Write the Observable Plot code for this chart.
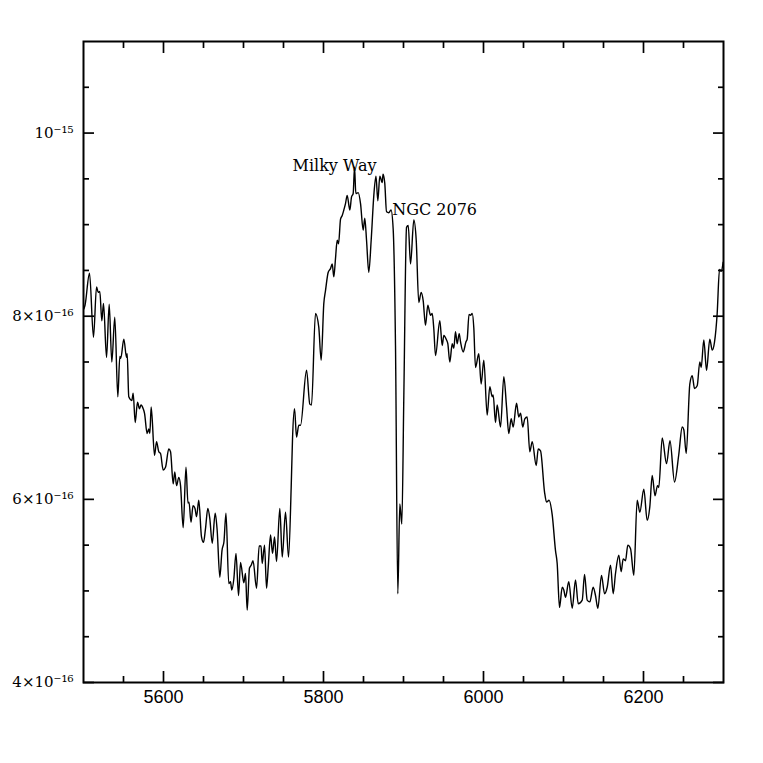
<!DOCTYPE html>
<html><head><meta charset="utf-8">
<script src="https://cdn.jsdelivr.net/npm/d3@7"></script>
<script src="https://cdn.jsdelivr.net/npm/@observablehq/plot@0.6"></script>
<style>body{margin:0;background:#fff}</style>
</head><body><div id="chart"></div>
<script>
const wavelength = [5500.4,5501.9,5507.5,5512.5,5516.3,5518.4,5520.4,5522.9,5525.0,5528.8,5532.1,5535.4,5539.1,5542.9,5545.4,5546.6,5550.4,5553.8,5554.6,5556.6,5560.4,5562.1,5564.6,5567.5,5570.0,5571.9,5574.6,5576.3,5579.5,5581.6,5582.9,5584.6,5588.8,5591.3,5594.1,5596.3,5599.6,5602.5,5606.6,5608.8,5612.1,5614.1,5616.3,5619.1,5621.3,5624.6,5628.1,5630.6,5631.9,5634.4,5636.9,5639.4,5641.3,5644.1,5647.5,5650.0,5652.5,5655.4,5657.9,5660.9,5664.6,5667.1,5670.4,5673.1,5675.6,5678.1,5681.6,5683.8,5685.3,5687.9,5690.6,5693.8,5696.3,5700.4,5702.5,5704.6,5707.5,5709.6,5711.9,5716.3,5719.6,5721.9,5723.4,5726.3,5728.8,5730.9,5733.8,5736.3,5738.8,5741.3,5745.4,5748.4,5752.5,5756.3,5759.6,5761.3,5763.8,5766.3,5769.1,5771.3,5778.8,5782.9,5785.0,5790.0,5794.1,5797.1,5800.4,5802.5,5805.9,5808.8,5810.9,5812.9,5815.0,5817.1,5818.8,5821.3,5823.4,5825.4,5827.5,5829.6,5832.9,5835.0,5837.1,5838.8,5840.4,5843.4,5846.3,5849.6,5851.6,5853.8,5856.6,5859.6,5862.9,5865.6,5867.9,5870.4,5873.4,5874.4,5876.6,5878.8,5881.6,5884.4,5887.1,5890.0,5892.9,5895.4,5897.9,5900.4,5903.8,5905.9,5908.8,5912.9,5915.9,5919.1,5922.1,5924.6,5927.5,5930.4,5933.8,5935.9,5937.9,5940.0,5945.4,5948.4,5950.4,5953.8,5955.4,5957.9,5960.9,5962.9,5965.0,5967.1,5969.6,5971.3,5974.6,5978.1,5979.6,5981.9,5983.8,5985.9,5987.9,5990.0,5994.1,5997.1,6000.4,6004.6,6007.9,6010.9,6012.1,6015.0,6017.1,6021.3,6025.4,6028.8,6031.6,6034.6,6037.1,6041.3,6044.1,6046.3,6049.1,6051.6,6054.6,6057.9,6060.9,6065.9,6068.4,6071.3,6076.3,6078.8,6081.9,6085.9,6090.0,6092.1,6095.0,6098.4,6100.4,6102.5,6106.6,6110.9,6115.0,6118.4,6123.4,6126.3,6129.6,6132.9,6137.1,6140.0,6142.9,6147.5,6151.3,6154.6,6158.8,6162.1,6165.0,6169.1,6172.1,6174.6,6177.5,6180.4,6183.8,6187.9,6192.1,6195.4,6200.4,6204.6,6207.9,6210.9,6214.4,6217.5,6219.1,6223.4,6228.8,6233.1,6238.8,6244.1,6248.4,6250.4,6253.4,6257.9,6260.9,6263.8,6267.1,6270.4,6272.1,6275.4,6278.8,6282.9,6285.9,6288.8,6292.1,6295.0,6297.1,6299.6];
// flux in units of 1e-16
const flux = [8.08,8.12,8.47,7.77,8.32,8.26,8.27,7.95,8.14,7.55,8.13,7.50,7.99,7.12,7.56,7.54,7.75,7.55,7.59,7.12,7.08,7.16,6.84,7.06,6.99,7.03,6.99,6.94,6.72,6.77,6.72,7.01,6.48,6.63,6.52,6.50,6.32,6.35,6.55,6.52,6.17,6.30,6.15,6.24,6.15,5.69,6.35,5.96,5.97,5.75,5.93,5.90,5.81,5.99,5.59,5.53,5.68,5.90,5.79,5.52,5.85,5.66,5.15,5.44,5.54,5.85,5.08,5.10,5.01,5.13,5.41,4.95,5.31,5.09,5.19,4.79,5.25,5.28,5.33,5.03,5.49,5.49,5.30,5.50,5.03,5.26,5.61,5.41,5.59,5.32,5.90,5.37,5.86,5.37,6.13,6.67,6.99,6.68,6.81,6.81,7.41,7.04,7.03,8.03,7.88,7.52,8.14,8.28,8.48,8.52,8.57,8.43,8.63,8.83,8.79,9.06,9.10,9.16,9.23,9.32,9.16,9.30,9.34,9.63,9.34,9.35,9.23,8.94,9.07,8.83,8.48,8.83,9.32,9.53,9.26,9.53,9.46,9.55,9.45,9.14,9.13,9.16,8.95,7.68,4.97,5.95,5.73,7.12,8.97,8.99,8.57,9.05,8.83,8.15,8.26,8.17,7.90,8.12,8.01,8.03,7.86,7.57,7.95,7.68,7.79,7.74,7.70,7.50,7.70,7.65,7.83,7.70,7.81,7.72,7.61,7.72,7.75,8.02,8.01,8.03,7.87,7.44,7.59,7.26,7.52,6.92,7.23,7.12,7.14,6.84,7.03,6.79,7.34,7.01,6.72,6.88,6.79,7.05,6.90,6.94,6.79,6.88,6.90,6.52,6.63,6.37,6.55,6.53,6.08,5.97,5.99,5.83,5.44,5.30,4.82,5.04,5.01,4.93,5.10,4.81,5.12,4.86,4.90,5.18,4.90,4.88,5.04,4.95,4.81,5.17,4.97,5.04,5.28,4.97,5.19,5.39,5.21,5.35,5.33,5.50,5.46,5.17,5.99,5.86,6.11,5.77,5.92,6.26,6.04,6.15,6.13,6.67,6.39,6.64,6.19,6.49,6.79,6.76,6.50,7.26,7.35,7.21,7.24,7.50,7.44,7.74,7.41,7.75,7.63,7.72,8.03,8.51,8.49,8.59];

const xMajorTicks = [5600, 5800, 6000, 6200];
const xMinorTicks = [5550, 5650, 5700, 5750, 5850, 5900, 5950, 6050, 6100, 6150, 6250];
const yMajorTicks = [4, 6, 8, 10];
const yTickLabels = ["4×10⁻¹⁶", "6×10⁻¹⁶", "8×10⁻¹⁶", "10⁻¹⁵"];
const yMinorTicks = [4.5, 5, 5.5, 6.5, 7, 7.5, 8.5, 9, 9.5, 10.5];

const annotationText = ["Milky Way", "NGC 2076"];
const annotationWavelength = [5761.3, 5885.9];
const annotationFlux = [9.59, 9.10];

const spectrum = wavelength.map((w, i) => ({w, f: flux[i]}));
const notes = annotationText.map((t, i) => ({t, w: annotationWavelength[i], f: annotationFlux[i]}));
const yLabelRows = yMajorTicks.map((v, i) => ({v, s: yTickLabels[i]}));
const tk = {stroke: "black", strokeWidth: 1.7, fill: "none", label: null};

const chart = Plot.plot({
  width: 763, height: 763,
  marginLeft: 83, marginRight: 40, marginTop: 41, marginBottom: 81,
  x: {domain: [5500, 6300], label: null},
  y: {domain: [4, 11], label: null},
  marks: [
    Plot.line(spectrum, {x: "w", y: "f", stroke: "black", strokeWidth: 1.4, curve: "monotone-x"}),
    Plot.axisX(xMajorTicks, {anchor: "bottom", tickSize: -11, ...tk}),
    Plot.axisX(xMinorTicks, {anchor: "bottom", tickSize: -6, ...tk}),
    Plot.axisX(xMajorTicks, {anchor: "top", tickSize: -11, ...tk}),
    Plot.axisX(xMinorTicks, {anchor: "top", tickSize: -6, ...tk}),
    Plot.axisY(yMajorTicks, {anchor: "left", tickSize: -11, ...tk}),
    Plot.axisY(yMinorTicks, {anchor: "left", tickSize: -6, ...tk}),
    Plot.axisY(yMajorTicks, {anchor: "right", tickSize: -11, ...tk}),
    Plot.axisY(yMinorTicks, {anchor: "right", tickSize: -6, ...tk}),
    Plot.text(xMajorTicks, {x: d => d, frameAnchor: "bottom", lineAnchor: "top", dy: 8,
      text: d => String(d), fontSize: 18, fontFamily: "Liberation Sans", fill: "black"}),
    Plot.text(yLabelRows, {y: "v", frameAnchor: "left", textAnchor: "end", dx: -10,
      text: "s", fontSize: 15, fontFamily: "DejaVu Serif", fill: "black"}),
    Plot.frame({stroke: "black", strokeWidth: 2}),
    Plot.text(notes, {x: "w", y: "f", text: "t", textAnchor: "start", lineAnchor: "bottom",
      fontFamily: "DejaVu Serif", fontSize: 16, fill: "black"})
  ]
});
document.getElementById("chart").appendChild(chart);
</script>
</body></html>
